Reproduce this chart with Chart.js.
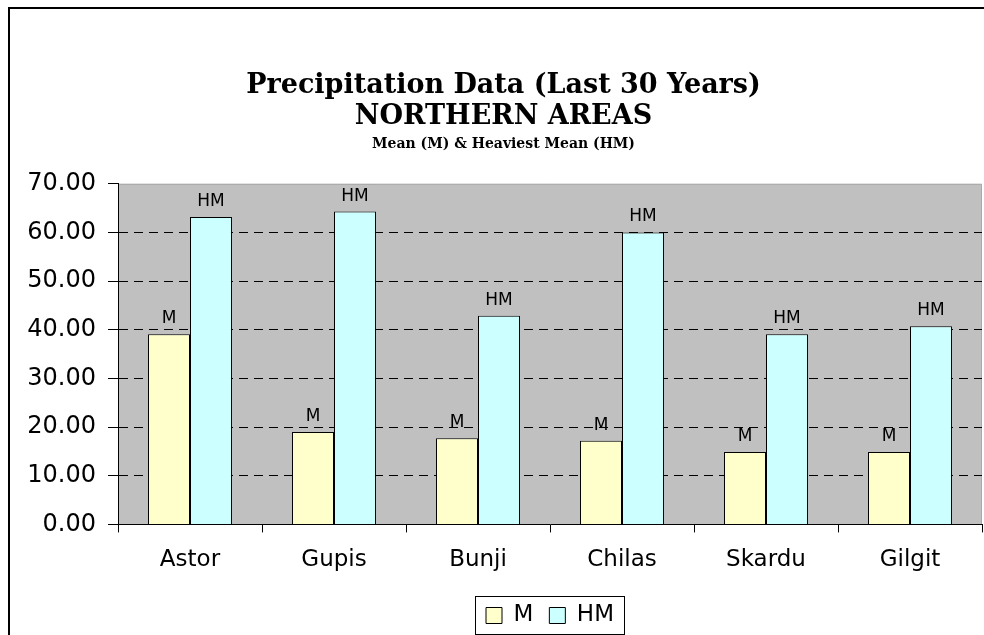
<!DOCTYPE html>
<html>
<head>
<meta charset="utf-8">
<script src="https://cdn.jsdelivr.net/npm/chart.js@4/dist/chart.umd.min.js"></script>
<style>
  html, body { margin: 0; padding: 0; background: #fff; }
  #wrap { position: relative; width: 984px; height: 635px; overflow: hidden; }
  #frame { position: absolute; left: 8px; top: 7px; width: 1100px; height: 800px;
           border: 2px solid #000; box-sizing: border-box; }
  #c { position: absolute; left: 0; top: 0; }
</style>
</head>
<body>
<div id="wrap">
  <div id="frame"></div>
  <canvas id="c" width="984" height="635"></canvas>
</div>
<script>
// Stations and precipitation values (mm)
const stations = ['Astor', 'Gupis', 'Bunji', 'Chilas', 'Skardu', 'Gilgit'];
const meanM = [39.1, 19.0, 17.7, 17.2, 14.9, 14.9];
const heaviestHM = [63.2, 64.3, 42.9, 60.0, 39.1, 40.7];
const yMin = 0, yMax = 70, yStep = 10;

const titleLines = ['Precipitation Data (Last 30 Years)', 'NORTHERN AREAS'];
const subtitleText = 'Mean (M) & Heaviest Mean (HM)';

const SANS = 'DejaVu Sans';
const SERIF = 'DejaVu Serif';

// Grey plot area with a thin light top/right edge
const plotBackground = {
  id: 'plotBackground',
  beforeDraw(chart) {
    const { ctx, chartArea: a } = chart;
    ctx.save();
    ctx.fillStyle = '#C0C0C0';
    ctx.fillRect(a.left, a.top, a.right - a.left, a.bottom - a.top);
    ctx.strokeStyle = '#a8a8a8';
    ctx.lineWidth = 1;
    ctx.beginPath();
    ctx.moveTo(a.left, a.top + 0.5);
    ctx.lineTo(a.right - 0.5, a.top + 0.5);
    ctx.lineTo(a.right - 0.5, a.bottom);
    ctx.stroke();
    ctx.restore();
  }
};

// Series name written above every bar
const barTags = {
  id: 'barTags',
  afterDatasetsDraw(chart) {
    const { ctx } = chart;
    ctx.save();
    ctx.font = '17px "' + SANS + '"';
    ctx.fillStyle = '#000';
    ctx.textAlign = 'center';
    ctx.textBaseline = 'alphabetic';
    chart.data.datasets.forEach((ds, i) => {
      chart.getDatasetMeta(i).data.forEach(el => {
        ctx.fillText(ds.label, el.x, el.y - 11);
      });
    });
    ctx.restore();
  }
};

// Box drawn around the legend entries
const legendFrame = {
  id: 'legendFrame',
  afterDraw(chart) {
    const boxes = chart.legend && chart.legend.legendHitBoxes;
    if (!boxes || !boxes.length) return;
    let l = Infinity, r = -Infinity, t = Infinity, b = -Infinity;
    boxes.forEach(h => {
      l = Math.min(l, h.left); r = Math.max(r, h.left + h.width);
      t = Math.min(t, h.top); b = Math.max(b, h.top + h.height);
    });
    const { ctx } = chart;
    ctx.save();
    ctx.strokeStyle = '#000';
    ctx.lineWidth = 1;
    ctx.strokeRect(Math.round(l - 11) + 0.5, Math.round(t - 8) + 0.5,
                   Math.round(r - l + 21), Math.round(b - t + 15));
    ctx.restore();
  }
};

new Chart(document.getElementById('c'), {
  type: 'bar',
  data: {
    labels: stations,
    datasets: [
      { label: 'M', data: meanM, backgroundColor: '#FFFFCC', borderColor: '#000', borderWidth: 1 },
      { label: 'HM', data: heaviestHM, backgroundColor: '#CCFFFF', borderColor: '#000', borderWidth: 1 }
    ]
  },
  options: {
    responsive: false,
    animation: false,
    datasets: { bar: { categoryPercentage: 0.583, barPercentage: 1.0 } },
    layout: { padding: { top: 70, left: 25, right: 2, bottom: -2 } },
    plugins: {
      title: {
        display: true,
        text: titleLines,
        color: '#000',
        font: { family: SERIF, size: 27, weight: 'bold', lineHeight: 31 / 27 },
        padding: { top: 0, bottom: 4 }
      },
      subtitle: {
        display: true,
        text: subtitleText,
        color: '#000',
        font: { family: SERIF, size: 14, weight: 'bold', lineHeight: 1.2 },
        padding: { top: 0, bottom: 31 }
      },
      legend: {
        position: 'bottom',
        fullSize: false,
        labels: {
          color: '#000',
          font: { family: SANS, size: 23 },
          boxWidth: 16,
          boxHeight: 16,
          padding: 16
        }
      },
      tooltip: { enabled: false }
    },
    scales: {
      x: {
        ticks: { color: '#000', font: { family: SANS, size: 23 }, padding: 14, maxRotation: 0 },
        grid: { display: true, drawOnChartArea: false, offset: true, tickLength: 8, tickColor: '#000' },
        border: { color: '#000', width: 1 }
      },
      y: {
        min: yMin,
        max: yMax,
        ticks: {
          stepSize: yStep,
          color: '#000',
          font: { family: SANS, size: 24 },
          padding: 12,
          callback: v => Number(v).toFixed(2)
        },
        grid: {
          color: c => (c.tick && c.tick.value > yMin && c.tick.value < yMax) ? '#000' : 'rgba(0,0,0,0)',
          tickColor: '#000',
          tickLength: 10,
          lineWidth: 1
        },
        border: { color: '#000', width: 1, dash: [9, 6] },
        afterFit(s) { s.width = 93; }
      }
    }
  },
  plugins: [plotBackground, barTags, legendFrame]
});
</script>
</body>
</html>
